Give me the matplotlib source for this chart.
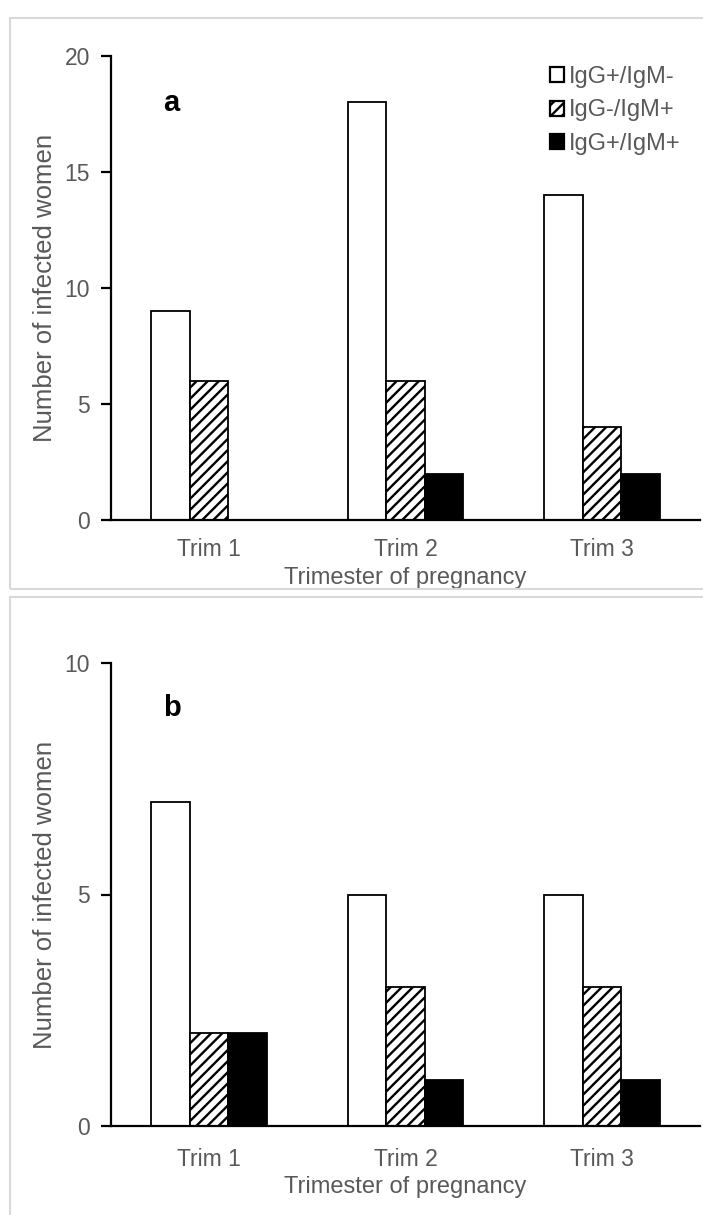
import matplotlib
matplotlib.use("Agg")
import matplotlib.pyplot as plt
from matplotlib.patches import Rectangle, Patch
import numpy as np

plt.rcParams['font.family'] = ['Liberation Sans', 'DejaVu Sans']
plt.rcParams['hatch.linewidth'] = 1.7

categories = ["Trim 1", "Trim 2", "Trim 3"]
series_names = ["IgG+/IgM-", "IgG-/IgM+", "IgG+/IgM+"]
panel_a_igg_pos_igm_neg = [9, 18, 14]
panel_a_igg_neg_igm_pos = [6, 6, 4]
panel_a_igg_pos_igm_pos = [0, 2, 2]
panel_b_igg_pos_igm_neg = [7, 5, 5]
panel_b_igg_neg_igm_pos = [2, 3, 3]
panel_b_igg_pos_igm_pos = [2, 1, 1]
yticks_a = [0, 5, 10, 15, 20]
yticks_b = [0, 5, 10]
xlabel = "Trimester of pregnancy"
ylabel = "Number of infected women"

W, H = 703, 1215
fig = plt.figure(figsize=(W / 100, H / 100), dpi=100)

GRAY = '#595959'
FS = 16.5
styles = [dict(facecolor='white', hatch=None),
          dict(facecolor='white', hatch='///'),
          dict(facecolor='black', hatch=None)]

# frames
for (x0, y0, x1, y1) in [(10, 18, 720, 589), (10, 597, 720, 1240)]:
    fig.patches.append(Rectangle((x0 / W, 1 - y1 / H), (x1 - x0) / W, (y1 - y0) / H,
                                 transform=fig.transFigure, fill=False,
                                 edgecolor='#d9d9d9', lw=1.5, zorder=0))


def panel(top_px, bot_px, data, yticks, letter, letter_y, legend, tick_pad, xl_off):
    left, right = 111, 700
    hpx = bot_px - top_px
    ax = fig.add_axes([left / W, 1 - bot_px / H, (right - left) / W, hpx / H])
    x = np.arange(len(categories))
    w = 0.196
    for i, vals in enumerate(data):
        st = styles[i]
        ax.bar(x + (i - 1) * w, vals, width=w, facecolor=st['facecolor'],
               edgecolor='black', hatch=st['hatch'], linewidth=1.3, zorder=2,
               label=series_names[i])
    ax.set_xlim(-0.5, 2.5)
    ax.set_ylim(0, yticks[-1])
    ax.set_yticks(yticks)
    ax.set_xticks(x)
    ax.set_xticklabels(categories)
    for s in ['top', 'right']:
        ax.spines[s].set_visible(False)
    for s in ['left', 'bottom']:
        ax.spines[s].set_linewidth(1.6)
        ax.spines[s].set_color('black')
    ax.tick_params(axis='y', length=7, width=1.6, color='black', labelsize=FS,
                   labelcolor=GRAY, pad=8)
    ax.tick_params(axis='x', length=0, labelsize=FS, labelcolor=GRAY, pad=tick_pad)
    ax.text(0.5, -xl_off / hpx, xlabel, transform=ax.transAxes,
            fontsize=FS + 0.5, color=GRAY, ha='center', va='center')
    ax.text((45 - left) / (right - left), 0.5, ylabel, transform=ax.transAxes,
            fontsize=18.5, color=GRAY, ha='center', va='center', rotation=90)
    ax.text((163 - left) / (right - left), 1 - (letter_y - top_px) / hpx, letter,
            transform=ax.transAxes, fontsize=21, fontweight='bold', ha='left', va='center')
    if legend:
        handles = [Patch(facecolor=st['facecolor'], edgecolor='black', hatch=st['hatch'],
                         linewidth=1.6) for st in styles]
        ax.legend(handles, series_names, loc='upper left',
                  bbox_to_anchor=(550 / W, 1 - 66 / H), bbox_transform=fig.transFigure,
                  frameon=False, fontsize=17, labelcolor=GRAY, handlelength=0.6,
                  handleheight=0.6, handletextpad=0.2, labelspacing=0.48,
                  borderpad=0, borderaxespad=0)
    return ax


panel(56, 520, [panel_a_igg_pos_igm_neg, panel_a_igg_neg_igm_pos, panel_a_igg_pos_igm_pos],
      yticks_a, 'a', 103, True, 13, 58)
panel(663, 1126, [panel_b_igg_pos_igm_neg, panel_b_igg_neg_igm_pos, panel_b_igg_pos_igm_pos],
      yticks_b, 'b', 708, False, 16, 61)

fig.savefig('out.png', dpi=100)
